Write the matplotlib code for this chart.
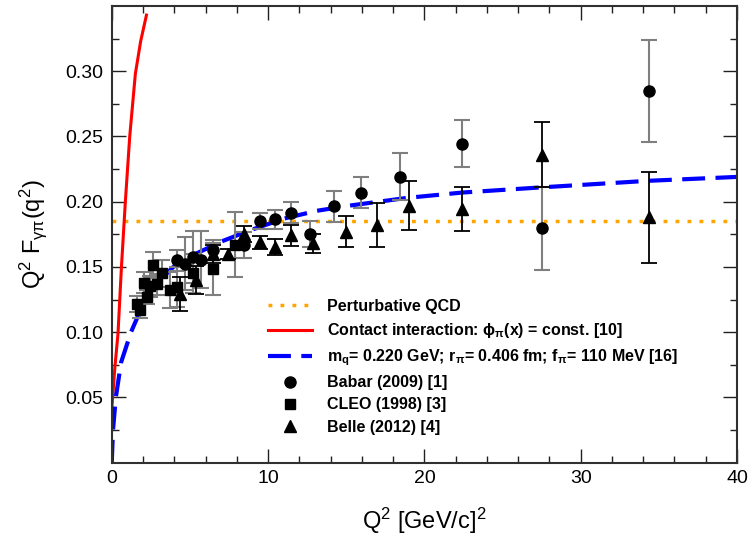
import matplotlib
matplotlib.use("Agg")
import matplotlib.pyplot as plt
from matplotlib.ticker import MultipleLocator, FormatStrFormatter

plt.rcParams['font.family'] = ['Liberation Sans', 'DejaVu Sans']
plt.rcParams['mathtext.default'] = 'regular'

# Babar (2009): Q^2, Q^2 F(Q^2), error
babar_q2 = [4.18, 4.71, 5.20, 5.70, 6.45, 8.46, 9.47, 10.45, 11.47, 12.69,
            14.20, 15.96, 18.44, 22.40, 27.50, 34.34]
babar_f = [0.155, 0.1526, 0.1577, 0.1556, 0.163, 0.167, 0.1852, 0.1865, 0.1917, 0.175,
           0.1964, 0.2068, 0.219, 0.2444, 0.1796, 0.285]
babar_err = [0.008, 0.020, 0.020, 0.022, 0.008, 0.010, 0.006, 0.0075, 0.0077, 0.010,
             0.012, 0.012, 0.018, 0.018, 0.032, 0.039]

# CLEO (1998)
cleo_q2 = [1.62, 1.83, 2.07, 2.26, 2.43, 2.64, 2.90, 3.24, 3.71, 4.18, 5.20, 6.45, 7.89]
cleo_f = [0.1214, 0.1168, 0.1378, 0.127, 0.1352, 0.1513, 0.1367, 0.145, 0.1322, 0.1347,
          0.145, 0.1487, 0.167]
cleo_err = [0.006, 0.006, 0.008, 0.005, 0.008, 0.010, 0.008, 0.010, 0.014, 0.015,
            0.015, 0.020, 0.025]

# Belle (2012)
belle_q2 = [4.35, 5.42, 6.45, 7.44, 8.46, 9.47, 10.45, 11.47, 12.88, 14.96,
            17.00, 19.02, 22.40, 27.50, 34.34]
belle_f = [0.1296, 0.140, 0.160, 0.160, 0.1755, 0.169, 0.1653, 0.1743, 0.168, 0.177,
           0.182, 0.197, 0.1946, 0.236, 0.188]
belle_err = [0.013, 0.011, 0.007, 0.004, 0.006, 0.005, 0.0058, 0.008, 0.007, 0.012,
             0.017, 0.019, 0.017, 0.025, 0.035]

# model curves
contact_q2 = [0.0, 0.2, 0.4, 0.62, 0.87, 1.15, 1.51, 1.85, 2.22]
contact_f = [0.041, 0.073, 0.099, 0.150, 0.200, 0.250, 0.298, 0.323, 0.343]

model_q2 = [0.0, 0.08, 0.26, 0.6, 1.23, 2.13, 3.0, 3.94, 5.0, 6.06, 7.12, 8.83, 11.0,
            13.1, 15.2, 18.94, 22.4, 27.5, 34.3, 40.0]
model_f = [0.0, 0.025, 0.05, 0.077, 0.100, 0.125, 0.139, 0.150, 0.158, 0.164, 0.170,
           0.178, 0.187, 0.193, 0.197, 0.203, 0.207, 0.211, 0.216, 0.219]

pqcd_q2 = [0.0, 40.0]
pqcd_f = [0.185, 0.185]

fig = plt.figure(figsize=(7.5, 5.41), dpi=100)
ax = fig.add_axes([0.149, 0.1447, 0.8337, 0.8443])

ax.plot(pqcd_q2, pqcd_f, color='#FFA500', lw=2.5, linestyle=(0, (1.1, 2.35)),
        label='Perturbative QCD')
ax.plot(contact_q2, contact_f, color='#FF0000', lw=2.2,
        label='Contact interaction: \u03d5$_{\u03c0}$(x) = const. [10]')
ax.plot(model_q2, model_f, color='#0000FF', lw=3, linestyle=(0, (5.5, 2.5)),
        label='m$_{q}$= 0.220 GeV; r$_{\u03c0}$= 0.406 fm; f$_{\u03c0}$= 110 MeV [16]')

# data with error bars
ax.errorbar(cleo_q2, cleo_f, yerr=cleo_err, fmt='none', ecolor='#7f7f7f', elinewidth=1.5,
            capsize=6, capthick=1.5)
ax.errorbar(babar_q2, babar_f, yerr=babar_err, fmt='none', ecolor='#7f7f7f', elinewidth=1.5,
            capsize=6, capthick=1.5)
ax.errorbar(belle_q2, belle_f, yerr=belle_err, fmt='none', ecolor='black', elinewidth=1.3,
            capsize=6, capthick=1.3)
ax.plot(babar_q2, babar_f, 'o', color='black', ms=8, label='Babar (2009) [1]')
ax.plot(cleo_q2, cleo_f, 's', color='black', ms=7, label='CLEO (1998) [3]')
ax.plot(belle_q2, belle_f, '^', color='black', ms=9, label='Belle (2012) [4]')

ax.set_xlim(0, 40)
ax.set_ylim(0, 0.35)
ax.xaxis.set_major_locator(MultipleLocator(10))
ax.xaxis.set_minor_locator(MultipleLocator(2))
# no label at zero on the y axis, like the original
ax.set_yticks([0.05, 0.10, 0.15, 0.20, 0.25, 0.30])
ax.set_yticks([0.025, 0.075, 0.125, 0.175, 0.225, 0.275, 0.325], minor=True)
ax.yaxis.set_major_formatter(FormatStrFormatter('%.2f'))
ax.tick_params(which='both', direction='in', top=True, right=True, labelsize=14, color='#202020')
ax.tick_params(which='major', length=10, width=1)
ax.tick_params(which='minor', length=5, width=1)
ax.tick_params(axis='y', pad=6)
ax.tick_params(axis='x', pad=5)
for s in ax.spines.values():
    s.set_linewidth(1.5)
    s.set_color('#303030')

ax.set_xlabel('Q$^{2}$ [GeV/c]$^{2}$', fontsize=17, labelpad=14)
ax.set_ylabel('Q$^{2}$ F$_{\u03b3\u03c0}$(q$^{2}$)', fontsize=17, labelpad=12)

leg = ax.legend(loc='upper left', bbox_to_anchor=(0.357, 1 - 299 / 541),
                bbox_transform=fig.transFigure, frameon=False, borderpad=0,
                borderaxespad=0, handlelength=2.75, handletextpad=0.94,
                labelspacing=0.45, prop={'weight': 'bold', 'size': 11.5})

fig.savefig('out.png', dpi=100)
